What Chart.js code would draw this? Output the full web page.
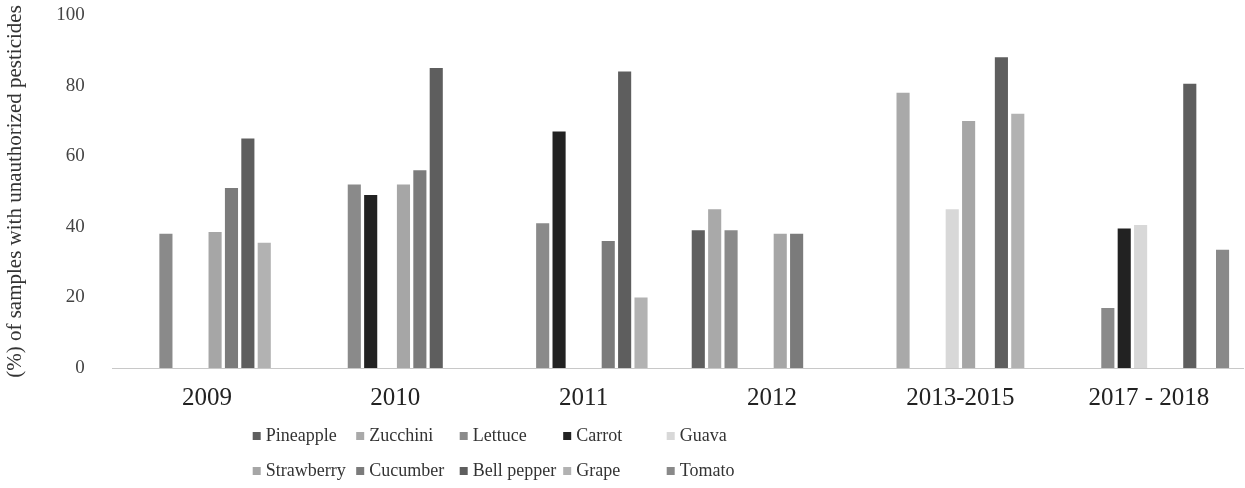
<!DOCTYPE html>
<html>
<head>
<meta charset="utf-8">
<script src="https://cdn.jsdelivr.net/npm/chart.js@4"></script>
<style>
    body { margin: 0; background: #fff; }
    #wrap { width: 1245px; height: 488px; position: relative; }
</style>
</head>
<body>
<div id="wrap"><canvas id="grafico"></canvas></div>
<script>
// =========================
// DATA
// =========================

const categories = ["2009", "2010", "2011", "2012", "2013-2015", "2017 - 2018"];

const pineapple  = [null, null, null, 39, null, null];
const zucchini   = [null, null, null, 45, 78, null];
const lettuce    = [38, 52, 41, 39, null, 17];
const carrot     = [null, 49, 67, null, null, 39.5];
const guava      = [null, null, null, null, 45, 40.5];
const strawberry = [38.5, 52, null, 38, 70, null];
const cucumber   = [51, 56, 36, 38, null, null];
const bellPepper = [65, 85, 84, null, 88, 80.5];
const grape      = [35.5, null, 20, null, 72, null];
const tomato     = [null, null, null, null, null, 33.5];

const yTicks = [0, 20, 40, 60, 80, 100];

const series = [
    { label: "Pineapple",   data: pineapple,  color: "#5f5f5f" },
    { label: "Zucchini",    data: zucchini,   color: "#a9a9a9" },
    { label: "Lettuce",     data: lettuce,    color: "#8a8a8a" },
    { label: "Carrot",      data: carrot,     color: "#222222" },
    { label: "Guava",       data: guava,      color: "#d8d8d8" },
    { label: "Strawberry",  data: strawberry, color: "#a6a6a6" },
    { label: "Cucumber",    data: cucumber,   color: "#7b7b7b" },
    { label: "Bell pepper", data: bellPepper, color: "#5e5e5e" },
    { label: "Grape",       data: grape,      color: "#b2b2b2" },
    { label: "Tomato",      data: tomato,     color: "#898989" }
];

const serif = "'Liberation Serif', 'Times New Roman', serif";

// legend in a 5 column grid under the axis
const gridLegend = {
    id: "gridLegend",
    afterDraw(chart) {
        const ctx = chart.ctx;
        const left = chart.chartArea.left + 140;
        const top = chart.chartArea.bottom + 68;
        ctx.save();
        ctx.font = "18px " + serif;
        ctx.textBaseline = "middle";
        chart.data.datasets.forEach((ds, i) => {
            const x = left + (i % 5) * 103.5;
            const y = top + Math.floor(i / 5) * 35;
            ctx.fillStyle = ds.backgroundColor;
            ctx.fillRect(x, y - 4, 8, 8);
            ctx.fillStyle = "#333";
            ctx.fillText(ds.label, x + 13, y);
        });
        ctx.restore();
    }
};

new Chart(document.getElementById("grafico"), {

    type: "bar",

    data: {
        labels: categories,
        datasets: series.map(s => ({
            label: s.label,
            data: s.data,
            backgroundColor: s.color,
            categoryPercentage: 0.87,
            barPercentage: 0.8
        }))
    },

    options: {
        responsive: true,
        maintainAspectRatio: false,
        animation: false,

        layout: {
            padding: { top: 15, right: 2, bottom: 60, left: 0 }
        },

        plugins: {
            legend: { display: false },
            tooltip: { enabled: false }
        },

        scales: {

            x: {
                grid: { display: false, drawTicks: false },
                border: { display: true, color: "#c8c8c8", width: 1 },
                ticks: {
                    color: "#222",
                    padding: 15,
                    maxRotation: 0,
                    font: { family: serif, size: 25 }
                }
            },

            y: {
                min: 0,
                max: 100,
                afterBuildTicks: axis => {
                    axis.ticks = yTicks.map(v => ({ value: v }));
                },
                // tick padding should not push the plot down
                afterFit: axis => {
                    axis.paddingTop = 0;
                    axis.paddingBottom = 0;
                },
                grid: { display: false, drawTicks: false },
                border: { display: false },
                ticks: {
                    color: "#444",
                    padding: 28,
                    font: { family: serif, size: 19 }
                },
                title: {
                    display: true,
                    text: "(%) of samples with unauthorized pesticides",
                    color: "#333",
                    padding: { top: 3, bottom: 0 },
                    font: { family: serif, size: 21 }
                }
            }

        }
    },

    plugins: [gridLegend]

});
</script>
</body>
</html>
